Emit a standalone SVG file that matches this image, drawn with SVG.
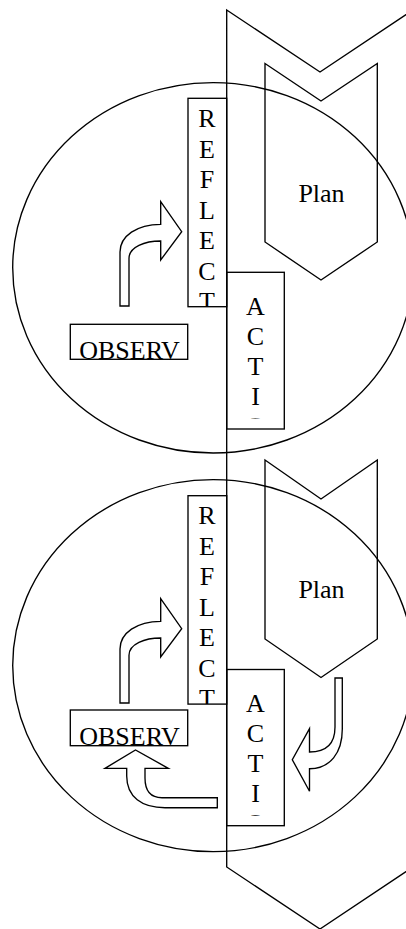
<svg xmlns="http://www.w3.org/2000/svg" width="406" height="929" viewBox="0 0 406 929">
<style>
.s{fill:none;stroke:#000;stroke-width:1.35;stroke-linejoin:miter}
.a{fill:#fff;stroke:#000;stroke-width:1.35;stroke-linejoin:miter}
.t{font-family:"Liberation Serif","Times New Roman",serif;font-size:26px;fill:#000;text-anchor:middle}
</style>
<defs>
<clipPath id="cR1"><rect x="188" y="98.3" width="38.7" height="208.4"/></clipPath>
<clipPath id="cR2"><rect x="188" y="495.7" width="38.7" height="208.4"/></clipPath>
<clipPath id="cA1"><rect x="226.7" y="272.3" width="57.6" height="146.2"/></clipPath>
<clipPath id="cA2"><rect x="226.7" y="669.5" width="57.6" height="146.2"/></clipPath>
<clipPath id="cO1"><rect x="70.3" y="324.3" width="117.4" height="35"/></clipPath>
<clipPath id="cO2"><rect x="70.3" y="710" width="117.4" height="35.7"/></clipPath>
</defs>
<g id="cycle1"><ellipse class="s" cx="213.1" cy="267.8" rx="200.4" ry="185.2"/></g>
<g id="cycle2"><ellipse class="s" cx="213.1" cy="665.6" rx="200.4" ry="186"/></g>
<g id="bigChevron"><path class="s" d="M226.7,10 L320,72 L413,10 L413,867 L320,929 L226.7,867 Z"/></g>
<g id="plan1">
<path class="s" d="M265,63.5 L321,101 L377.3,63.5 L377.3,242 L321,280 L265,242 Z"/>
<text class="t" x="321.5" y="201.7">Plan</text>
</g>
<g id="plan2">
<path class="s" d="M265,460 L321,499 L377.3,460 L377.3,639 L321,677.5 L265,639 Z"/>
<text class="t" x="321.5" y="598.3">Plan</text>
</g>
<g id="reflect1">
<rect class="s" x="188" y="98.3" width="38.7" height="208.4"/>
<g clip-path="url(#cR1)" class="t">
<text x="207" y="127">R</text><text x="207" y="157.5">E</text><text x="207" y="188">F</text><text x="207" y="218.5">L</text><text x="207" y="249">E</text><text x="207" y="279.5">C</text><text x="207" y="310">T</text>
</g>
</g>
<g id="reflect2">
<rect class="s" x="188" y="495.7" width="38.7" height="208.4"/>
<g clip-path="url(#cR2)" class="t">
<text x="207" y="524">R</text><text x="207" y="554.5">E</text><text x="207" y="585">F</text><text x="207" y="615.5">L</text><text x="207" y="646">E</text><text x="207" y="676.5">C</text><text x="207" y="707">T</text>
</g>
</g>
<g id="action1">
<rect class="s" x="226.7" y="272.3" width="57.6" height="156.7"/>
<g clip-path="url(#cA1)" class="t">
<text x="255.5" y="314.5">A</text><text x="255.5" y="344.5">C</text><text x="255.5" y="374.5">T</text><text x="255.5" y="404.5">I</text><text x="255.5" y="434.5">O</text>
</g>
</g>
<g id="action2">
<rect class="s" x="226.7" y="669.5" width="57.6" height="156.2"/>
<g clip-path="url(#cA2)" class="t">
<text x="255.5" y="711.5">A</text><text x="255.5" y="741.5">C</text><text x="255.5" y="771.5">T</text><text x="255.5" y="801.5">I</text><text x="255.5" y="831.5">O</text>
</g>
</g>
<g id="observe1">
<rect class="s" x="70.3" y="324.3" width="117.4" height="35"/>
<text class="t" x="129.5" y="358.5" clip-path="url(#cO1)">OBSERV</text>
</g>
<g id="observe2">
<rect class="s" x="70.3" y="710" width="117.4" height="35.7"/>
<text class="t" x="129.5" y="745" clip-path="url(#cO2)">OBSERV</text>
</g>
<g id="connectors">
<path class="a" d="M120,306 L120,252 C120,236 137,224.3 160.7,224.3 L160.7,201.7 L181.7,231.7 L160.7,260 L160.7,241 C145,241 129,247 129,258.3 L129,306 Z"/>
<path class="a" d="M120,703 L120,649 C120,633 137,621.3 160.7,621.3 L160.7,598.7 L181.7,628.7 L160.7,657 L160.7,638 C145,638 129,644 129,655.3 L129,703 Z"/>
<path class="a" d="M335,678 L342.3,678 L342.3,729 C342.3,753 330,768.7 309.5,768.7 L309.5,791.3 L292.3,759.7 L309.5,728.7 L309.5,752 C325,752 335,745 335,727 Z"/>
<path class="a" d="M217.3,797.7 L217.3,807.7 L165,807.7 C142,807.7 126.7,797 126.7,776 L126.7,768.3 L105,768.3 L135.5,750 L168.3,768.3 L145,768.3 L145,778 C145,790 150,797.7 162,797.7 Z"/>
</g>
</svg>
